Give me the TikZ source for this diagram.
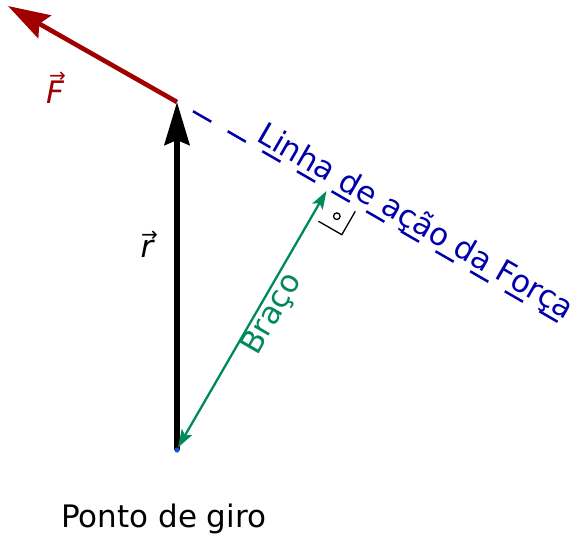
\documentclass[tikz,border=0pt]{standalone}
\usepackage{fontspec}
\setmainfont{DejaVu Sans}
\usetikzlibrary{arrows.meta}
\definecolor{forcered}{RGB}{160,0,0}
\definecolor{lineblue}{RGB}{0,0,170}
\definecolor{armgreen}{RGB}{0,138,92}
\definecolor{dotblue}{RGB}{20,80,210}
\newcommand{\myvec}[1]{\leavevmode\vbox{\offinterlineskip\halign{\hfil##\hfil\cr{\fontsize{20}{20}\selectfont\kern5pt→}\cr\noalign{\kern-2pt}\itshape #1\cr}}}
\begin{document}
\begin{tikzpicture}[x=1pt,y=-1pt,
  bigtxt/.style={font=\fontsize{31}{37}\selectfont, inner sep=0pt},
  forcearrow/.style={draw=forcered, line width=4.6pt, -{Stealth[length=42pt,width=26pt,inset=6pt]}},
  radiusarrow/.style={draw=black, line width=5.5pt, -{Stealth[length=43pt,width=25pt,inset=5pt]}},
  actionline/.style={draw=lineblue, line width=2.5pt, dash pattern=on 21pt off 19pt, dash phase=21.5pt},
  armarrow/.style={draw=armgreen, line width=2.3pt, {Stealth[length=18pt,width=12pt,inset=4pt]}-{Stealth[length=18pt,width=12pt,inset=4pt]}},
  anglemark/.style={draw=black, line width=1.3pt}
]
\useasboundingbox (0,0) rectangle (575,533);
% key points
\coordinate (V) at (177,450);      % pivot
\coordinate (P) at (177,102);      % point of application
\coordinate (Ftip) at (8,6);
\coordinate (Lend) at (558,322);
\coordinate (foot) at (327.7,189);
\coordinate (armtop) at (326.5,191);
\coordinate (armbot) at (178,447.5);
\coordinate (sqC) at (318.4,221.2);
\coordinate (sqB) at (341.8,234.7);
\coordinate (sqA) at (355.3,211.3);
% line of action
\draw[actionline] (P) -- (Lend);
% force
\draw[forcearrow] (P) -- (Ftip);
% position vector
\draw[radiusarrow] (V) -- (P);
% lever arm
\draw[armarrow] (armbot) -- (armtop);
% right angle
\draw[anglemark] (sqC) -- (sqB) -- (sqA);
\draw[black, line width=1.3pt] (336.8,216.2) circle[radius=3.3pt];
% pivot dot
\fill[dotblue] (V) circle[radius=2.6pt];
% labels
\node[bigtxt, text=lineblue, anchor=base west, rotate=-30] (tline) at (255.3,140.3) {Linha de ação da Força};
\node[bigtxt, text=armgreen, anchor=base west, rotate=60] (tarm) at (257.2,357.1) {Braço};
\node[bigtxt, text=black, anchor=base west] (tpivot) at (61,527) {Ponto de giro};
\node[bigtxt, text=forcered, anchor=base] (tF) at (55,103) {\myvec{F}};
\node[bigtxt, text=black, anchor=base] (tr) at (147,257) {\myvec{r}};
\end{tikzpicture}
\end{document}
